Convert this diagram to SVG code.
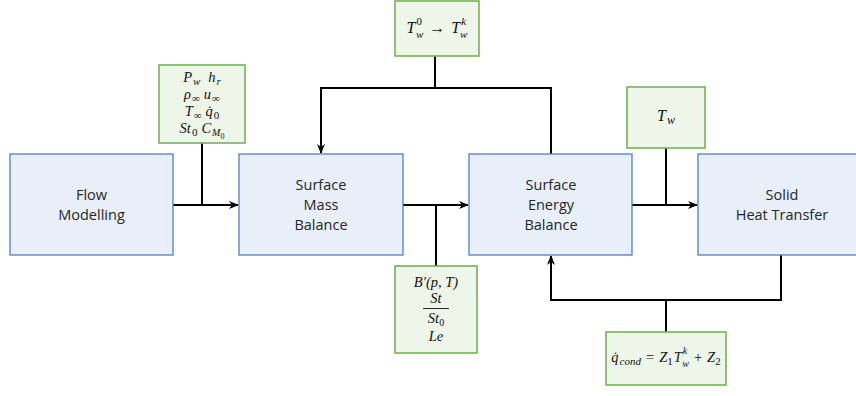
<svg xmlns="http://www.w3.org/2000/svg" width="856" height="396" viewBox="0 0 856 396">
<style>
.blk{fill:#E8EFF9;stroke:#4F7FD0;stroke-width:1.3}
.grn{fill:#EEF5E9;stroke:#77B255;stroke-width:1.6}
.lbl{font-family:"Open Sans","Liberation Sans",sans-serif;font-size:14.5px;fill:#262626;text-anchor:middle}
.m{font-family:"Liberation Serif","DejaVu Serif",serif;font-style:italic;font-size:16px;fill:#111;text-anchor:middle}
.f{font-size:14.5px}
.u{font-style:normal}
.c{fill:none;stroke:#000;stroke-width:2}
</style>
<defs>
<marker id="ah" viewBox="0 0 10 10" refX="9" refY="5" markerWidth="10" markerHeight="10" orient="auto" markerUnits="userSpaceOnUse">
<path d="M0,1 L10,5 L0,9 L3,5 z" fill="#000"/>
</marker>
</defs>
<g id="connectors">
<path class="c" d="M173,205 H238" marker-end="url(#ah)"/>
<path class="c" d="M202,143 V205"/>
<path class="c" d="M403,205 H468" marker-end="url(#ah)"/>
<path class="c" d="M436,205 V266"/>
<path class="c" d="M632,205 H697" marker-end="url(#ah)"/>
<path class="c" d="M666,148 V205"/>
<path class="c" d="M435,56 V88"/>
<path class="c" d="M551,154 V88 H321 V153" marker-end="url(#ah)"/>
<path class="c" d="M781,255 V300 H551 V256" marker-end="url(#ah)"/>
<path class="c" d="M666,300 V332"/>
</g>
<g id="flow">
<rect class="blk" x="10" y="154" width="163" height="101"/>
<text class="lbl" x="91.5" y="200">Flow</text>
<text class="lbl" x="91.5" y="220">Modelling</text>
</g>
<g id="mass">
<rect class="blk" x="239" y="154" width="164" height="101"/>
<text class="lbl" x="321" y="190">Surface</text>
<text class="lbl" x="321" y="210">Mass</text>
<text class="lbl" x="321" y="230">Balance</text>
</g>
<g id="energy">
<rect class="blk" x="469" y="154" width="163" height="101"/>
<text class="lbl" x="551" y="190">Surface</text>
<text class="lbl" x="551" y="210">Energy</text>
<text class="lbl" x="551" y="230">Balance</text>
</g>
<g id="solid">
<rect class="blk" x="698" y="154" width="168" height="101"/>
<text class="lbl" x="782" y="200">Solid</text>
<text class="lbl" x="782" y="220">Heat Transfer</text>
</g>
<g id="inputs">
<rect class="grn" x="159" y="65" width="86" height="78"/>
<text class="m f" x="202" y="82">P<tspan font-size="11" dy="3" dx="1">w</tspan><tspan dy="-3" dx="8">h</tspan><tspan font-size="11" dy="3" dx="1">r</tspan></text>
<text class="m f" x="202" y="99">ρ<tspan class="u" font-size="11" dy="3" dx="1">∞</tspan><tspan dy="-3" dx="4">u</tspan><tspan class="u" font-size="11" dy="3" dx="1">∞</tspan></text>
<text class="m f" x="202" y="116">T<tspan class="u" font-size="11" dy="3" dx="1">∞</tspan><tspan dy="-3" dx="4">q̇</tspan><tspan class="u" font-size="11" dy="3" dx="1">0</tspan></text>
<text class="m f" x="202" y="133">St<tspan class="u" font-size="11" dy="3" dx="1">0</tspan><tspan dy="-3" dx="4">C</tspan><tspan font-size="10" dy="3" dx="1">M</tspan><tspan class="u" font-size="8" dy="3">0</tspan></text>
</g>
<g id="wall-temp-iter">
<rect class="grn" x="395" y="1" width="84" height="55"/>
<text class="m" x="437" y="33">T<tspan class="u" font-size="11" dy="-8" dx="1">0</tspan><tspan font-size="11" dx="-6" dy="13">w</tspan><tspan class="u" dx="6" dy="-5">→</tspan><tspan dx="6">T</tspan><tspan font-size="11" dy="-8" dx="1">k</tspan><tspan font-size="11" dx="-6" dy="13">w</tspan></text>
</g>
<g id="blowing">
<rect class="grn" x="395" y="266" width="82" height="87"/>
<text class="m f" x="436" y="287">B′(p, T)</text>
<text class="m f" x="436" y="303">St</text>
<line x1="423" y1="308.5" x2="449" y2="308.5" stroke="#111" stroke-width="0.9"/>
<text class="m f" x="436" y="323">St<tspan class="u" font-size="10" dy="3">0</tspan></text>
<text class="m f" x="436" y="341">Le</text>
</g>
<g id="tw">
<rect class="grn" x="627" y="87" width="78" height="61"/>
<text class="m" x="666" y="121">T<tspan font-size="12" dy="3" dx="1">w</tspan></text>
</g>
<g id="qcond">
<rect class="grn" x="606" y="332" width="120" height="53"/>
<text class="m f" x="666" y="362">q̇<tspan font-size="11" dy="3" dx="1">cond</tspan><tspan class="u" dy="-3" dx="5">=</tspan><tspan dx="5">Z</tspan><tspan class="u" font-size="11" dy="3">1</tspan><tspan dy="-3" dx="1">T</tspan><tspan font-size="10" dy="-8" dx="1">k</tspan><tspan font-size="10" dx="-5" dy="13">w</tspan><tspan class="u" dx="5" dy="-5">+</tspan><tspan dx="5">Z</tspan><tspan class="u" font-size="11" dy="3">2</tspan></text>
</g>
</svg>
